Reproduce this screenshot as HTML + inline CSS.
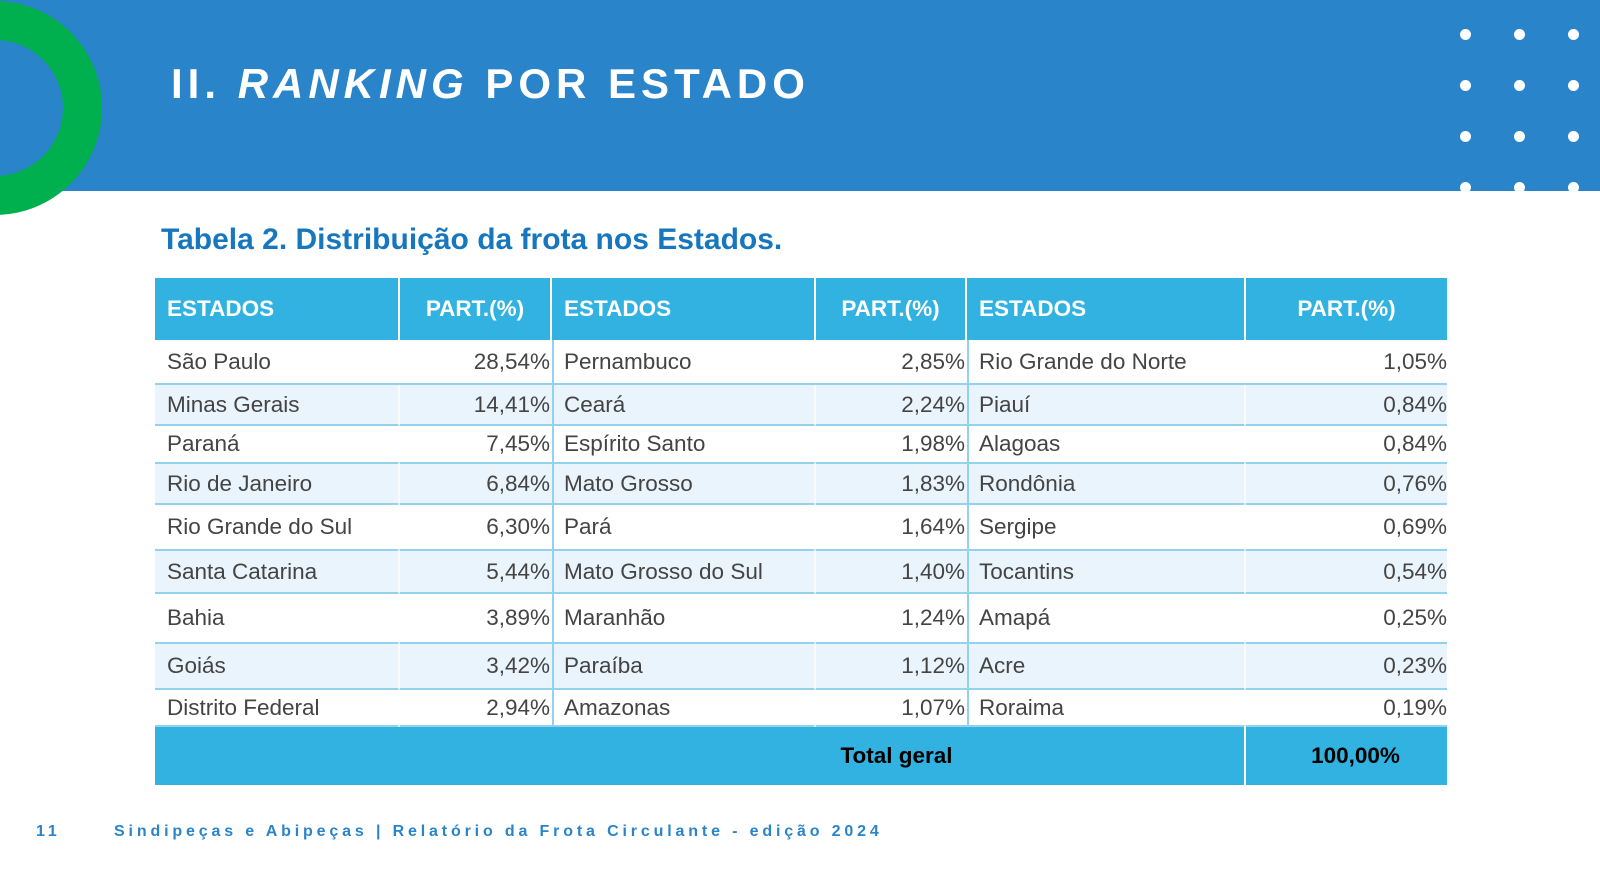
<!DOCTYPE html>
<html><head><meta charset="utf-8"><style>
*{margin:0;padding:0;box-sizing:border-box}
body{width:1600px;height:891px;background:#fff;position:relative;overflow:hidden;font-family:"Liberation Sans",sans-serif}
.ban{position:absolute;left:0;top:0;width:1600px;height:191px;background:#2A84C9;overflow:hidden}
.ring{position:absolute;left:-112px;top:1px;width:214px;height:214px;border-radius:50%;border:39px solid #00B04E}
.dot{position:absolute;width:11px;height:11px;border-radius:50%;background:#fff}
h1{position:absolute;left:171px;top:60px;color:#fff;font-size:42px;font-weight:bold;letter-spacing:5px;white-space:nowrap}
h2{position:absolute;left:161px;top:223px;color:#1677BE;font-size:30px;font-weight:bold;white-space:nowrap}
.c{position:absolute;font-size:22.5px;color:#444;white-space:nowrap;display:flex;align-items:center}
.hd{background:#31B2E0;color:#fff;font-weight:bold}
.r{justify-content:flex-end}
.foot{position:absolute;top:823px;color:#2A84C9;font-size:16px;font-weight:bold;letter-spacing:3.85px;white-space:nowrap}
</style></head><body>
<div class="ban">
<div class="dot" style="left:1460px;top:29px"></div><div class="dot" style="left:1514px;top:29px"></div><div class="dot" style="left:1568px;top:29px"></div>
<div class="dot" style="left:1460px;top:80px"></div><div class="dot" style="left:1514px;top:80px"></div><div class="dot" style="left:1568px;top:80px"></div>
<div class="dot" style="left:1460px;top:131px"></div><div class="dot" style="left:1514px;top:131px"></div><div class="dot" style="left:1568px;top:131px"></div>
<div class="dot" style="left:1460px;top:182px"></div><div class="dot" style="left:1514px;top:182px"></div><div class="dot" style="left:1568px;top:182px"></div>
</div>
<div class="ring"></div>
<h1>II. <i>RANKING</i> POR ESTADO</h1>
<h2>Tabela 2. Distribuição da frota nos Estados.</h2>
<div id="t"></div>
<div class="foot" style="left:36px">11</div>
<div class="foot" style="left:114px">Sindipeças e Abipeças | Relatório da Frota Circulante - edição 2024</div>
<script>
var X=[155,400,552,816,967,1246,1447];
var Y=[278,340,385,426,464,505,551,594,644,690,727];
var d=[["São Paulo","28,54%","Pernambuco","2,85%","Rio Grande do Norte","1,05%"],
["Minas Gerais","14,41%","Ceará","2,24%","Piauí","0,84%"],
["Paraná","7,45%","Espírito Santo","1,98%","Alagoas","0,84%"],
["Rio de Janeiro","6,84%","Mato Grosso","1,83%","Rondônia","0,76%"],
["Rio Grande do Sul","6,30%","Pará","1,64%","Sergipe","0,69%"],
["Santa Catarina","5,44%","Mato Grosso do Sul","1,40%","Tocantins","0,54%"],
["Bahia","3,89%","Maranhão","1,24%","Amapá","0,25%"],
["Goiás","3,42%","Paraíba","1,12%","Acre","0,23%"],
["Distrito Federal","2,94%","Amazonas","1,07%","Roraima","0,19%"]];
var h='';
function cell(x,y,w,hh,txt,cls,st){h+='<div class="c '+cls+'" style="left:'+x+'px;top:'+y+'px;width:'+w+'px;height:'+hh+'px;'+st+'">'+txt+'</div>';}
var hdr=["ESTADOS","PART.(%)","ESTADOS","PART.(%)","ESTADOS","PART.(%)"];
for(var i=0;i<6;i++){var r=i%2==1;cell(X[i],Y[0],X[i+1]-X[i]-(i<5?2:0),Y[1]-Y[0],hdr[i],'hd',r?'justify-content:center':'padding-left:12px');}
for(var j=0;j<9;j++){var y=Y[j+1],hh=Y[j+2]-y;var bg=j%2==1?'#EAF4FC':'#fff';
h+='<div style="position:absolute;left:155px;top:'+y+'px;width:1292px;height:'+hh+'px;background:'+bg+';border-bottom:2px solid #93D2EF"></div>';
for(var i=0;i<6;i++){var r=i%2==1;cell(X[i],y,X[i+1]-X[i]-(i<5?2:0),hh-2,d[j][i],r?'r':'',r?'':'padding-left:12px');}
}
h+='<div style="position:absolute;left:552px;top:340px;width:2px;height:387px;background:#93D2EF"></div>';
h+='<div style="position:absolute;left:967px;top:340px;width:2px;height:387px;background:#93D2EF"></div>';
for(var k of [400,816,1246]){h+='<div style="position:absolute;left:'+(k-2)+'px;top:385px;width:2px;height:342px;background:#fff;opacity:.6"></div>';}
cell(155,727,1089,58,'Total geral','hd','justify-content:center;padding-left:394px;color:#000');
cell(1246,727,201,58,'100,00%','hd','justify-content:center;padding-left:18px;color:#000');
document.getElementById('t').innerHTML=h;
</script>
</body></html>
